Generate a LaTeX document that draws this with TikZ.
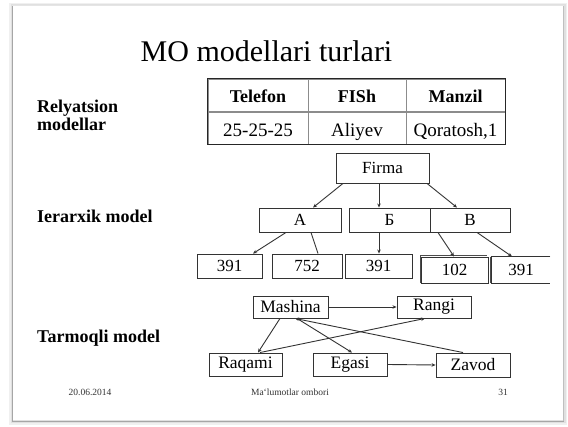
\documentclass[tikz,border=0pt]{standalone}
\usepackage{fontspec}
\setmainfont{Liberation Serif}
\usetikzlibrary{arrows.meta,calc}
\begin{document}
\begin{tikzpicture}[x=1pt,y=-1pt,
  ink/.style={draw=black!80,line width=0.9pt},
  box/.style={ink,minimum height=24pt,inner sep=0pt,font=\fontsize{17}{17}\selectfont},
  netbox/.style={ink,minimum height=23pt,inner sep=0pt,font=\fontsize{17.5}{17.5}\selectfont},
  cell/.style={draw=black!45,line width=0.6pt,inner sep=0pt,minimum height=33pt},
  hd/.style={font=\fontsize{18}{18}\selectfont\bfseries},
  rw/.style={font=\fontsize{19}{19}\selectfont},
  lbl/.style={anchor=base west,inner sep=0pt,font=\fontsize{18}{18}\selectfont\bfseries,align=left},
  foot/.style={anchor=base,inner sep=0pt,font=\fontsize{9.5}{9.5}\selectfont,text=black!80},
  arr/.style={draw=black!80,line width=0.9pt,-{Stealth[length=4pt,width=3.5pt]}},
  link/.style={draw=black!80,line width=0.9pt}]
\useasboundingbox (0,0) rectangle (568,427);
% slide sheet with its soft shadow
\fill[white] (0,0) rectangle (568,427);
\fill[black!6] (9,3) rectangle (567,425);
\fill[black!12] (11,4) rectangle (566,423);
\fill[white] (13,6) rectangle (563,420);
\draw[black!35,line width=1.6pt] (12.5,5) -- (12.5,421);
\draw[black!35,line width=1.2pt] (12,421.5) -- (564,421.5);
\draw[black!25,line width=1.2pt] (563.5,5) -- (563.5,421);
\draw[black!10,line width=0.8pt] (12,5.5) -- (564,5.5);

% title
\node[anchor=base,inner sep=0pt,font=\fontsize{30}{30}\selectfont] (title) at (266.5,62) {MO modellari turlari};

% relational table
\node[cell,minimum width=100pt] (h1) at (258,95.5) {};
\node[cell,minimum width=98pt]  (h2) at (357,95.5) {};
\node[cell,minimum width=99pt]  (h3) at (455.5,95.5) {};
\node[cell,minimum width=100pt] (r1) at (258,128) {};
\node[cell,minimum width=98pt]  (r2) at (357,128) {};
\node[cell,minimum width=99pt]  (r3) at (455.5,128) {};
\draw[black!85,line width=1.3pt] (h1.north west) rectangle (r3.south east);
\node[hd,anchor=base] (t1) at (258,103) {Telefon};
\node[hd,anchor=base] (t2) at (357,103) {FISh};
\node[hd,anchor=base] (t3) at (455.5,103) {Manzil};
\node[rw,anchor=base] (v1) at (258,137) {25-25-25};
\node[rw,anchor=base] (v2) at (357,137) {Aliyev};
\node[rw,anchor=base] (v3) at (455.5,137) {Qoratosh,1};

% side labels
\node[lbl] (rel) at (37,131) {Relyatsion\\modellar};
\node[lbl] (ier) at (37,223) {Ierarxik model};
\node[lbl] (tar) at (37,343) {Tarmoqli model};

% hierarchical model
\node[box,minimum width=93pt,minimum height=30pt] (firma) at (382.5,168) {Firma};
\node[box,minimum width=82pt] (a) at (300,220) {A};
\node[box,minimum width=81pt] (b) at (389.5,220) {Б};
\node[box,minimum width=80pt] (v) at (470,220) {В};
\node[box,minimum width=65pt] (l1) at (229.5,266) {391};
\node[box,minimum width=70pt] (l2) at (307,266) {752};
\node[box,minimum width=67pt] (l3) at (378.5,266) {391};
\draw[black!70,line width=1.2pt] (420.5,283) -- (420.5,255.5) -- (487,255.5);
\node[box,minimum width=67pt,minimum height=26pt] (l4) at (454.5,270) {102};
\node[box,draw=none,minimum width=58pt,minimum height=26pt] (l5) at (521,270) {391};
\draw[ink] (l5.north east) -- (l5.north west) -- (l5.south west) -- (l5.south east);
\draw[black!70,line width=1.2pt] ($(l5.north west)+(-1.2,0)$) -- ($(l5.south west)+(-1.2,0)$);

\draw[arr] ($(firma.south)+(-39.5,0)$) -- ($(a.north)+(13,0)$);
\draw[arr] ($(firma.south)+(-3.5,0)$) -- ($(b.north)+(-10.5,0)$);
\draw[arr] ($(firma.south)+(44.5,0)$) -- ($(v.north)+(-13,0)$);
\draw[arr] ($(a.south)+(-14,0)$) -- ($(l1.north)+(23.5,0)$);
\draw[link] ($(a.south)+(11,0)$) -- ($(l2.north)+(11,0)$);
\draw[arr] ($(b.south)+(-10.5,0)$) -- ($(l3.north)+(0.5,0)$);
\draw[arr] ($(v.south)+(-32,0)$) -- ($(l4.north)+(-0.5,0)$);
\draw[arr] ($(v.south)+(7,0)$) -- ($(l5.north)+(-9,0)$);

% network model
\node[netbox,minimum width=75pt,minimum height=22pt] (mashina) at (290.5,307) {Mashina};
\node[netbox,minimum width=74pt,minimum height=22pt] (rangi) at (434,307) {Rangi};
\node[netbox,minimum width=73pt] (raqami) at (245.5,364.5) {Raqami};
\node[netbox,minimum width=74pt] (egasi) at (350,364.5) {Egasi};
\node[netbox,minimum width=74pt,minimum height=24pt] (zavod) at (473,365) {Zavod};

\draw[arr] (mashina.east) -- (rangi.west);
\draw[arr] ($(mashina.south)+(-10.5,0)$) -- ($(raqami.north)+(12.5,0)$);
\draw[arr] ($(raqami.north)+(14.5,0)$) -- ($(rangi.south)+(-9,0)$);
\draw[arr] ($(mashina.south)+(6.5,0)$) -- ($(egasi.north)+(2,0)$);
\draw[arr] ($(zavod.north)+(-10,0)$) -- ($(mashina.south)+(4.5,0)$);
\draw[arr] (egasi.east) -- (zavod.west);

% footer
\node[foot] (date) at (90,396) {20.06.2014};
\node[foot] (src) at (290,396) {Ma‘lumotlar ombori};
\node[foot] (page) at (503,396) {31};
\end{tikzpicture}
\end{document}
